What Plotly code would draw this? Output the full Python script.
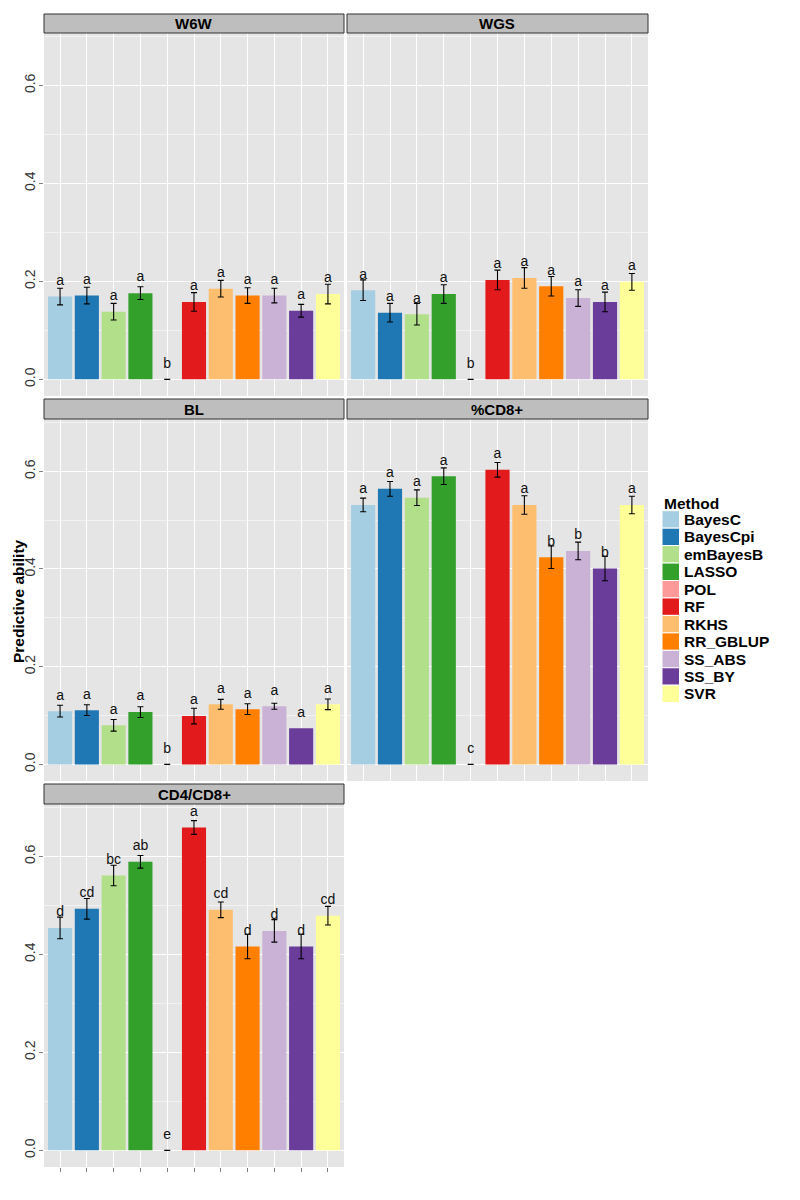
import plotly.graph_objects as go

# ---------------- data ----------------
methods = ["BayesC", "BayesCpi", "emBayesB", "LASSO", "POL", "RF", "RKHS",
           "RR_GBLUP", "SS_ABS", "SS_BY", "SVR"]
method_colors = ["#A6CEE3", "#1F78B4", "#B2DF8A", "#33A02C", "#FB9A99", "#E31A1C",
                 "#FDBF6F", "#FF7F00", "#CAB2D6", "#6A3D9A", "#FFFF99"]

traits = ["W6W", "WGS", "BL", "%CD8+", "CD4/CD8+"]

w6w_mean = [0.169, 0.171, 0.138, 0.176, 0.0, 0.158, 0.185, 0.171, 0.171, 0.140, 0.174]
w6w_se = [0.017, 0.017, 0.017, 0.013, 0.0, 0.019, 0.017, 0.016, 0.015, 0.013, 0.020]
w6w_letters = ["a", "a", "a", "a", "b", "a", "a", "a", "a", "a", "a"]

wgs_mean = [0.182, 0.136, 0.133, 0.174, 0.0, 0.203, 0.207, 0.190, 0.166, 0.158, 0.199]
wgs_se = [0.021, 0.019, 0.022, 0.019, 0.0, 0.020, 0.021, 0.020, 0.017, 0.020, 0.017]
wgs_letters = ["a", "a", "a", "a", "b", "a", "a", "a", "a", "a", "a"]

bl_mean = [0.109, 0.111, 0.080, 0.107, 0.0, 0.099, 0.123, 0.113, 0.119, 0.074, 0.123]
bl_se = [0.012, 0.011, 0.012, 0.011, 0.0, 0.016, 0.010, 0.011, 0.006, None, 0.011]
bl_letters = ["a", "a", "a", "a", "b", "a", "a", "a", "a", "a", "a"]

cd8_mean = [0.531, 0.564, 0.546, 0.590, 0.0, 0.603, 0.531, 0.424, 0.437, 0.401, 0.531]
cd8_se = [0.014, 0.015, 0.016, 0.017, 0.0, 0.015, 0.019, 0.023, 0.018, 0.025, 0.018]
cd8_letters = ["a", "a", "a", "a", "c", "a", "a", "b", "b", "b", "a"]

cd4cd8_mean = [0.454, 0.493, 0.561, 0.589, 0.0, 0.659, 0.491, 0.416, 0.448, 0.416, 0.479]
cd4cd8_se = [0.022, 0.021, 0.021, 0.013, 0.0, 0.014, 0.016, 0.025, 0.023, 0.025, 0.019]
cd4cd8_letters = ["d", "cd", "bc", "ab", "e", "a", "cd", "d", "d", "d", "cd"]

y_ticks = [0.0, 0.2, 0.4, 0.6]
y_ticktext = ["0.0", "0.2", "0.4", "0.6"]
y_title = "Predictive ability"
legend_title = "Method"

panels = [
    (traits[0], w6w_mean, w6w_se, w6w_letters),
    (traits[1], wgs_mean, wgs_se, wgs_letters),
    (traits[2], bl_mean, bl_se, bl_letters),
    (traits[3], cd8_mean, cd8_se, cd8_letters),
    (traits[4], cd4cd8_mean, cd4cd8_se, cd4cd8_letters),
]

# ---------------- layout geometry (pixels, page coordinates) ----------------
W, H = 800, 1200
OFF = 8  # default body margin of the written html page
FONT = "Liberation Sans, Arial, Helvetica, sans-serif"
cols = [(44, 344), (347, 648)]
rows = [((14, 33), (33, 396)), ((399, 419), (419, 781)), ((784, 804), (804, 1167))]
Y_RANGE = [-0.034, 0.707]
LABEL_OFFSET = 0.031


def px_x(p):
    return (p - OFF) / W


def px_y(p):
    return 1 - (p - OFF) / H


fig = go.Figure()
shapes = []
annotations = []

for i, (name, mean, se, letters) in enumerate(panels):
    r, c = divmod(i, 2)
    (s0, s1), (p0, p1) = rows[r]
    x0, x1 = cols[c]
    idx = "" if i == 0 else str(i + 1)
    xa, ya = "x" + idx, "y" + idx

    err = ["NaN" if v is None else v for v in se]  # missing SE -> no error bar
    fig.add_trace(go.Bar(
        x=methods, y=mean, xaxis=xa, yaxis=ya, width=0.9,
        marker=dict(color=method_colors, line=dict(width=0)),
        error_y=dict(type="data", array=err, visible=True, color="black",
                     thickness=1.1, width=3),
        showlegend=False, hoverinfo="x+y",
    ))
    fig.add_trace(go.Scatter(
        x=methods, y=[m + LABEL_OFFSET for m in mean], xaxis=xa, yaxis=ya,
        mode="text", text=letters, textposition="middle center",
        textfont=dict(family=FONT, size=14, color="#111111"),
        showlegend=False, hoverinfo="skip", cliponaxis=False,
    ))

    is_bottom = (i == 4)
    is_left = (c == 0)
    fig.layout["xaxis" + idx] = dict(
        domain=[px_x(x0), px_x(x1)], anchor=ya, type="category",
        categoryorder="array", categoryarray=methods,
        range=[-0.6, len(methods) - 0.4],
        showticklabels=False, showgrid=True, gridcolor="white", gridwidth=1.2,
        ticks="outside" if is_bottom else "", ticklen=4, tickcolor="#7F7F7F",
        tickwidth=1, showline=False, zeroline=False, fixedrange=True,
    )
    fig.layout["yaxis" + idx] = dict(
        domain=[px_y(p1), px_y(p0)], anchor=xa, range=Y_RANGE,
        tickvals=y_ticks, ticktext=y_ticktext, tickangle=-90,
        showticklabels=is_left, ticklabelstandoff=-2,
        tickfont=dict(family=FONT, size=14, color="#333333"),
        ticks="outside" if is_left else "", ticklen=4, tickcolor="#7F7F7F",
        tickwidth=1, showgrid=True, gridcolor="white", gridwidth=1.2,
        minor=dict(tick0=0, dtick=0.1, showgrid=True, gridcolor="#F2F2F2",
                   gridwidth=1, ticks=""),
        zeroline=False, showline=False, fixedrange=True,
    )

    # facet strip
    shapes.append(dict(type="rect", xref="paper", yref="paper",
                       x0=px_x(x0), x1=px_x(x1), y0=px_y(s1), y1=px_y(s0),
                       fillcolor="#BEBEBE", line=dict(color="#333333", width=1)))
    annotations.append(dict(xref="paper", yref="paper",
                            x=px_x((x0 + x1) / 2), y=px_y((s0 + s1) / 2),
                            text="<b>%s</b>" % name, showarrow=False,
                            xanchor="center", yanchor="middle",
                            font=dict(family=FONT, size=15, color="black")))

# y-axis title
annotations.append(dict(xref="paper", yref="paper", x=px_x(18.0), y=px_y(601),
                        text="<b>%s</b>" % y_title, textangle=-90, showarrow=False,
                        xanchor="center", yanchor="middle",
                        font=dict(family=FONT, size=15.5, color="black")))

# legend (drawn manually to match ggplot keys)
annotations.append(dict(xref="paper", yref="paper", x=px_x(662), y=px_y(503),
                        text="<b>%s</b>" % legend_title, showarrow=False,
                        xanchor="left", yanchor="middle",
                        font=dict(family=FONT, size=15.5, color="black")))
key_top, key_h = 510.7, 17.45
for k, (m, col) in enumerate(zip(methods, method_colors)):
    ky0 = key_top + k * key_h
    shapes.append(dict(type="rect", xref="paper", yref="paper",
                       x0=px_x(662), x1=px_x(679.5), y0=px_y(ky0 + key_h), y1=px_y(ky0),
                       fillcolor=col, line=dict(color="white", width=1)))
    annotations.append(dict(xref="paper", yref="paper", x=px_x(681.5),
                            y=px_y(ky0 + key_h / 2), text="<b>%s</b>" % m,
                            showarrow=False, xanchor="left", yanchor="middle",
                            font=dict(family=FONT, size=15.5, color="black")))

fig.update_layout(
    width=W, height=H, margin=dict(l=0, r=0, t=0, b=0),
    paper_bgcolor="white", plot_bgcolor="#E5E5E5",
    shapes=shapes, annotations=annotations, barmode="overlay",
    showlegend=False, font=dict(family=FONT),
)

fig.write_html("out.html")
